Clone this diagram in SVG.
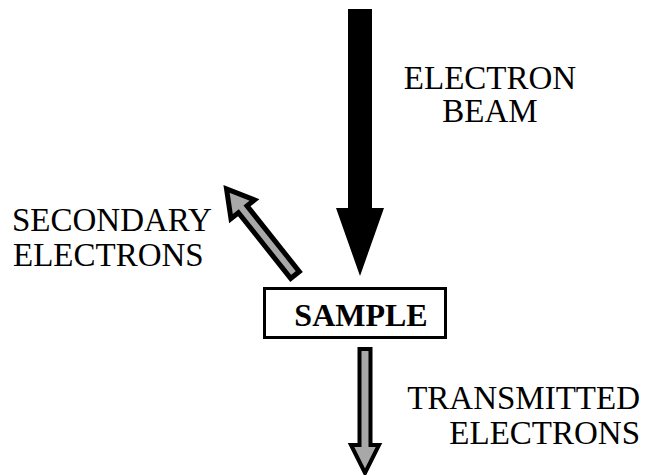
<svg xmlns="http://www.w3.org/2000/svg" width="648" height="475" viewBox="0 0 648 475">
<style>
.t{font-family:"Liberation Serif","Times New Roman",serif;font-size:33px;fill:#000}
.b{font-weight:bold;font-size:32px}
.g{fill:#a8a8a8;stroke:#000;stroke-linejoin:miter}
</style>
<rect width="648" height="475" fill="#fff"/>
<g id="connectors">
<path id="beam" d="M348,9 H372 V208 H384 L360,276 L336,208 H348 Z" fill="#000"/>
<path id="secondary" class="g" stroke-width="5" d="M-5.5,0 V-84 H-15 L0,-110 L15,-84 H5.5 V0 Z" transform="translate(295,275) rotate(-38.5)"/>
<path id="transmitted" class="g" stroke-width="4" d="M359.5,349 H370.5 V445 H379 L365,473 L351,445 H359.5 Z"/>
</g>
<g id="sample">
<rect x="264.5" y="288.5" width="181" height="49" fill="#fff" stroke="#000" stroke-width="3"/>
<text class="t b" x="361" y="326" text-anchor="middle">SAMPLE</text>
</g>
<g id="label-beam">
<text class="t" x="490" y="89" text-anchor="middle">ELECTRON</text>
<text class="t" x="490" y="122" text-anchor="middle">BEAM</text>
</g>
<g id="label-secondary">
<text class="t" x="12" y="231">SECONDARY</text>
<text class="t" x="13" y="266">ELECTRONS</text>
</g>
<g id="label-transmitted">
<text class="t" x="640" y="409" text-anchor="end">TRANSMITTED</text>
<text class="t" x="640" y="444" text-anchor="end">ELECTRONS</text>
</g>
</svg>
